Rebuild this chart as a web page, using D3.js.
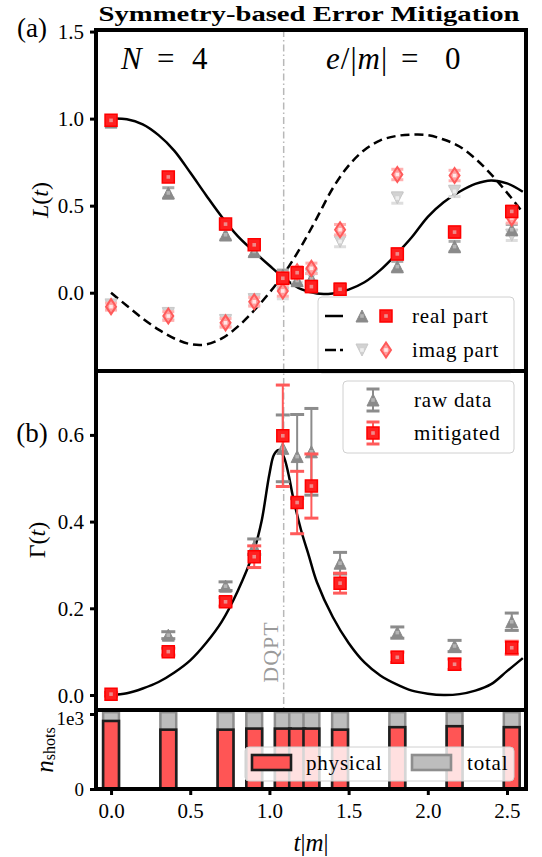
<!DOCTYPE html>
<html>
<head>
<meta charset="utf-8">
<script src="https://cdn.jsdelivr.net/npm/d3@7"></script>
<style>
  body { margin: 0; background: #fff; }
  svg { display: block; }
  text { font-family: "Liberation Serif", "Times New Roman", serif; fill: #000; }
</style>
</head>
<body>
<svg id="chart" width="542" height="857"></svg>
<script>
// ---- measurement times (t|m|) ----
const times = [0, 0.3615, 0.723, 0.904, 1.0845, 1.175, 1.265, 1.446, 1.8075, 2.169, 2.53];

// ---- Loschmidt amplitude L(t): raw and symmetry-mitigated ----
const realRaw = [0.98, 0.573, 0.333, 0.237, 0.10, 0.07, 0.08, 0.02, 0.15, 0.265, 0.362];
const realMit = [0.99, 0.665, 0.394, 0.275, 0.083, 0.115, 0.035, 0.02, 0.223, 0.348, 0.467];
const imagRaw = [-0.07, -0.12, -0.16, -0.04, -0.005, 0.09, 0.10, 0.294, 0.544, 0.582, 0.33];
const imagMit = [-0.08, -0.134, -0.173, -0.052, 0.01, 0.12, 0.14, 0.362, 0.679, 0.673, 0.43];
const lErrRaw = [0.02, 0.03, 0.03, 0.03, 0.03, 0.03, 0.03, 0.03, 0.03, 0.03, 0.03];
const lErrMit = [0.02, 0.025, 0.025, 0.025, 0.03, 0.03, 0.03, 0.03, 0.03, 0.03, 0.03];

// exact curves, sampled
const curveT = [0, 0.1, 0.2, 0.3, 0.4, 0.5, 0.6, 0.7, 0.8, 0.9, 1.0, 1.1, 1.2, 1.3, 1.4, 1.5, 1.6, 1.7, 1.8, 1.9, 2.0, 2.1, 2.2, 2.3, 2.4, 2.5, 2.6];
const realExact = [1.0, 0.996, 0.967, 0.905, 0.815, 0.69, 0.56, 0.435, 0.325, 0.238, 0.156, 0.079, 0.02, -0.005, -0.004, 0.018, 0.06, 0.13, 0.22, 0.32, 0.436, 0.52, 0.58, 0.625, 0.645, 0.628, 0.58];
const imagExact = [0, -0.075, -0.148, -0.212, -0.263, -0.295, -0.297, -0.262, -0.195, -0.105, 0.0, 0.12, 0.265, 0.43, 0.6, 0.73, 0.82, 0.875, 0.9, 0.908, 0.905, 0.88, 0.84, 0.77, 0.68, 0.575, 0.46];

// ---- rate function Γ(t) ----
const gammaT = [0, 0.1, 0.2, 0.3, 0.4, 0.5, 0.6, 0.7, 0.8, 0.9, 0.95, 1.0, 1.03, 1.06, 1.09, 1.12, 1.15, 1.2, 1.25, 1.3, 1.4, 1.5, 1.6, 1.7, 1.8, 1.9, 2.0, 2.1, 2.2, 2.3, 2.4, 2.5, 2.6];
const gammaExact = [0, 0.004, 0.015, 0.03, 0.052, 0.08, 0.12, 0.17, 0.24, 0.33, 0.4, 0.51, 0.555, 0.565, 0.55, 0.51, 0.455, 0.38, 0.32, 0.26, 0.18, 0.12, 0.075, 0.045, 0.025, 0.01, 0.003, 0.0, 0.002, 0.01, 0.025, 0.055, 0.085];
const gammaRaw = [0.002, 0.138, 0.251, 0.342, 0.569, 0.55, 0.561, 0.304, 0.144, 0.113, 0.169];
const gammaRawErr = [0.004, 0.008, 0.01, 0.018, 0.077, 0.097, 0.1, 0.025, 0.013, 0.013, 0.02];
const gammaMit = [0.002, 0.1, 0.215, 0.319, 0.598, 0.444, 0.482, 0.258, 0.087, 0.071, 0.109];
const gammaMitErr = [0.004, 0.008, 0.01, 0.025, 0.117, 0.072, 0.074, 0.023, 0.012, 0.012, 0.015];

// ---- shot counts ----
const shotsPhysical = [907, 791, 791, 805, 805, 805, 805, 791, 824, 837, 824];
const shotsTotal = [1024, 1024, 1024, 1024, 1024, 1024, 1024, 1024, 1024, 1024, 1024];
const barWidth = 0.1;

const tDQPT = 1.09;
const xTicks = [0, 0.5, 1.0, 1.5, 2.0, 2.5];
const aTicks = [0, 0.5, 1.0, 1.5];
const bTicks = [0, 0.2, 0.4, 0.6];
const cTicks = [0, 1000];

// ---- layout ----
const svg = d3.select("#chart");
const X0 = 96, X1 = 526;
const A = { top: 30, bottom: 371 }, B = { top: 371, bottom: 710 }, C = { top: 710, bottom: 789 };

const x = d3.scaleLinear().domain([-0.095, 2.62]).range([X0, X1]);
const yA = d3.scaleLinear().domain([-0.4497, 1.509]).range([A.bottom, A.top]);
const yB = d3.scaleLinear().domain([-0.0346, 0.7474]).range([B.bottom, B.top]);
const yC = d3.scaleLinear().domain([0, 1053]).range([C.bottom, C.top]);

const defs = svg.append("defs");
function clip(id, p) {
  defs.append("clipPath").attr("id", id).append("rect")
    .attr("x", X0).attr("y", p.top).attr("width", X1 - X0).attr("height", p.bottom - p.top);
  return "url(#" + id + ")";
}
const clipA = clip("clipA", A), clipB = clip("clipB", B), clipC = clip("clipC", C);

// marker shapes (centred at origin)
function triUp(s) { const h = s / 2; return `M0,${-h}L${h},${h}L${-h},${h}Z`; }
function triDown(s) { const h = s / 2; return `M0,${h}L${h},${-h}L${-h},${-h}Z`; }
function square(s) { const h = s / 2; return `M${-h},${-h}H${h}V${h}H${-h}Z`; }
function diamond(w, hgt) { return `M0,${-hgt / 2}L${w / 2},0L0,${hgt / 2}L${-w / 2},0Z`; }

const style = {
  realRaw: { path: triUp(12), fill: "#8a8a8a", stroke: "#8a8a8a", sw: 1, dot: "#b4b4b4", err: "#a8a8a8" },
  realMit: { path: square(12), fill: "#ff2020", stroke: "#ff0000", sw: 1.5, dot: "#f08a8a", err: "#ff7070" },
  imagRaw: { path: triDown(12), fill: "#d2d2d2", stroke: "#c8c8c8", sw: 1, dot: "#eeeeee", err: "#dedede" },
  imagMit: { path: diamond(10, 15), fill: "#ff9c9c", stroke: "#ff5a5a", sw: 2, dot: "#ffe8e8", err: "#ffb0b0" }
};

function drawMarker(g, cx, cy, st) {
  const m = g.append("g").attr("transform", `translate(${cx},${cy})`);
  m.append("path").attr("d", st.path).attr("fill", st.fill).attr("stroke", st.stroke).attr("stroke-width", st.sw);
  m.append("rect").attr("x", -1.8).attr("y", -1.8).attr("width", 3.6).attr("height", 3.6).attr("fill", st.dot);
}
function drawErr(g, cx, y0, y1, color, lw, capW, capLw) {
  g.append("line").attr("x1", cx).attr("x2", cx).attr("y1", y0).attr("y2", y1)
    .attr("stroke", color).attr("stroke-width", lw);
  [y0, y1].forEach(yy => g.append("line").attr("x1", cx - capW / 2).attr("x2", cx + capW / 2)
    .attr("y1", yy).attr("y2", yy).attr("stroke", color).attr("stroke-width", capLw));
}

function series(g, ys, errs, yScale, st, capW, capLw, lw) {
  times.forEach((t, i) => {
    drawErr(g, x(t), yScale(ys[i] - errs[i]), yScale(ys[i] + errs[i]), st.err, lw, capW, capLw);
  });
  times.forEach((t, i) => drawMarker(g, x(t), yScale(ys[i]), st));
}

// DQPT guide line through all panels
svg.append("line").attr("x1", x(tDQPT)).attr("x2", x(tDQPT)).attr("y1", A.top).attr("y2", C.bottom)
  .attr("stroke", "#b8b8b8").attr("stroke-width", 1.5).attr("stroke-dasharray", "7,3,1.5,3");

// ================= panel (a) =================
const gA = svg.append("g").attr("clip-path", clipA);
const lineA = d3.line().x((d, i) => x(curveT[i])).curve(d3.curveCatmullRom.alpha(0.5));
gA.append("path").attr("d", lineA.y(d => yA(d))(realExact)).attr("fill", "none")
  .attr("stroke", "#000").attr("stroke-width", 2.5);
gA.append("path").attr("d", lineA.y(d => yA(d))(imagExact)).attr("fill", "none")
  .attr("stroke", "#000").attr("stroke-width", 2.5).attr("stroke-dasharray", "9,5");

series(gA, imagRaw, lErrRaw, yA, style.imagRaw, 12, 3, 1.5);
series(gA, realRaw, lErrRaw, yA, style.realRaw, 12, 3, 1.5);
series(gA, imagMit, lErrMit, yA, style.imagMit, 12, 3, 1.5);
series(gA, realMit, lErrMit, yA, style.realMit, 12, 3, 1.5);

// legend (a)
const legA = svg.append("g");
legA.append("rect").attr("x", 318).attr("y", 297).attr("width", 196).attr("height", 76).attr("rx", 4)
  .attr("fill", "#fff").attr("fill-opacity", 0.85).attr("stroke", "#d0d0d0").attr("stroke-width", 1);
[[316, "real part", "0", style.realRaw, style.realMit], [350, "imag part", "9,5", style.imagRaw, style.imagMit]]
  .forEach(([ry, label, dash, s1, s2]) => {
    legA.append("line").attr("x1", 325).attr("x2", 343).attr("y1", ry).attr("y2", ry)
      .attr("stroke", "#000").attr("stroke-width", 2.5).attr("stroke-dasharray", dash === "0" ? null : "11,4");
    drawMarker(legA, 362, ry, s1);
    drawMarker(legA, 386, ry, s2);
    legA.append("text").attr("x", 412).attr("y", ry).attr("dominant-baseline", "central")
      .attr("font-size", 21).attr("letter-spacing", 0.8).text(label);
  });

// ================= panel (b) =================
const gB = svg.append("g").attr("clip-path", clipB);
gB.append("path").attr("d", d3.line().x((d, i) => x(gammaT[i])).y(d => yB(d))
  .curve(d3.curveCatmullRom.alpha(0.5))(gammaExact))
  .attr("fill", "none").attr("stroke", "#000").attr("stroke-width", 2.5);

const stRawB = Object.assign({}, style.realRaw, { err: "#8c8c8c" });
const stMitB = Object.assign({}, style.realMit, { err: "#ff5a5a" });
series(gB, gammaRaw, gammaRawErr, yB, stRawB, 14, 3, 2);
series(gB, gammaMit, gammaMitErr, yB, stMitB, 14, 3, 2);

svg.append("text").attr("transform", `translate(270,652) rotate(-90)`)
  .attr("text-anchor", "middle").attr("dominant-baseline", "central")
  .attr("font-size", 22).attr("letter-spacing", 1).style("fill", "#9a9a9a").text("DQPT");

// legend (b)
const legB = svg.append("g");
legB.append("rect").attr("x", 343).attr("y", 381).attr("width", 171).attr("height", 72).attr("rx", 4)
  .attr("fill", "#fff").attr("fill-opacity", 0.85).attr("stroke", "#d0d0d0").attr("stroke-width", 1);
[[400, "raw data", stRawB], [433, "mitigated", stMitB]].forEach(([ry, label, st]) => {
  drawErr(legB, 373, ry - 11, ry + 11, st.err, 2, 13, 3);
  drawMarker(legB, 373, ry, st);
  legB.append("text").attr("x", 414).attr("y", ry).attr("dominant-baseline", "central")
    .attr("font-size", 21).attr("letter-spacing", 0.8).text(label);
});

// ================= panel (c) =================
const gC = svg.append("g").attr("clip-path", clipC);
const bw = x(barWidth) - x(0);
gC.selectAll("rect.total").data(shotsTotal).join("rect").attr("class", "total")
  .attr("x", (d, i) => x(times[i]) - bw / 2).attr("width", bw)
  .attr("y", d => yC(d)).attr("height", d => yC(0) - yC(d))
  .attr("fill", "#bdbdbd").attr("stroke", "#8e8e8e").attr("stroke-width", 2.5);
gC.selectAll("rect.phys").data(shotsPhysical).join("rect").attr("class", "phys")
  .attr("x", (d, i) => x(times[i]) - bw / 2).attr("width", bw)
  .attr("y", d => yC(d)).attr("height", d => yC(0) - yC(d))
  .attr("fill", "#ff5555").attr("stroke", "#1e1e1e").attr("stroke-width", 2.6);

// legend (c)
const legC = svg.append("g");
legC.append("rect").attr("x", 245).attr("y", 747).attr("width", 269).attr("height", 34).attr("rx", 4)
  .attr("fill", "#fff").attr("fill-opacity", 0.82).attr("stroke", "#d0d0d0").attr("stroke-width", 1);
legC.append("rect").attr("x", 252).attr("y", 755).attr("width", 39).attr("height", 15)
  .attr("fill", "#ff5555").attr("stroke", "#1e1e1e").attr("stroke-width", 2.6);
legC.append("text").attr("x", 306).attr("y", 763).attr("dominant-baseline", "central")
  .attr("font-size", 21).attr("letter-spacing", 0.8).text("physical");
legC.append("rect").attr("x", 412).attr("y", 755).attr("width", 39).attr("height", 15)
  .attr("fill", "#bdbdbd").attr("stroke", "#8e8e8e").attr("stroke-width", 2.6);
legC.append("text").attr("x", 467).attr("y", 763).attr("dominant-baseline", "central")
  .attr("font-size", 21).attr("letter-spacing", 0.8).text("total");

// ================= axes & frames =================
function yAxis(scale, ticks, fmt, fontSize) {
  const g = svg.append("g").attr("transform", `translate(${X0},0)`)
    .call(d3.axisLeft(scale).tickValues(ticks).tickFormat(fmt).tickSize(6).tickPadding(6));
  g.select(".domain").remove();
  g.selectAll(".tick line").attr("stroke", "#000").attr("stroke-width", 3);
  g.selectAll(".tick text").attr("font-size", fontSize).attr("font-family", "Liberation Serif, serif")
    .attr("dy", null).attr("dominant-baseline", "central");
  return g;
}
yAxis(yA, aTicks, d3.format(".1f"), 21);
yAxis(yB, bTicks, d3.format(".1f"), 21);
const axC = yAxis(yC, cTicks, d => d === 0 ? "0" : "1e3", 19);
// keep the upper count label clear of the Γ-panel baseline label
axC.selectAll(".tick text").filter(d => d === 1000).attr("dy", 4);

const gx = svg.append("g").attr("transform", `translate(0,${C.bottom})`)
  .call(d3.axisBottom(x).tickValues(xTicks).tickFormat(d3.format(".1f")).tickSize(6).tickPadding(8));
gx.select(".domain").remove();
gx.selectAll(".tick line").attr("stroke", "#000").attr("stroke-width", 3);
gx.selectAll(".tick text").attr("font-size", 21).attr("font-family", "Liberation Serif, serif");

[A, B, C].forEach(p => svg.append("rect").attr("x", X0).attr("y", p.top)
  .attr("width", X1 - X0).attr("height", p.bottom - p.top)
  .attr("fill", "none").attr("stroke", "#000").attr("stroke-width", 4));

// ================= labels =================
svg.append("text").attr("x", 309).attr("y", 21).attr("text-anchor", "middle")
  .attr("font-family", "DejaVu Serif, serif").attr("font-weight", "bold").attr("font-size", 21)
  .attr("textLength", 421).attr("lengthAdjust", "spacingAndGlyphs")
  .text("Symmetry-based Error Mitigation");

svg.append("text").attr("x", 32).attr("y", 28).attr("text-anchor", "middle").attr("dominant-baseline", "central")
  .attr("font-size", 27).text("(a)");
svg.append("text").attr("x", 32).attr("y", 433).attr("text-anchor", "middle").attr("dominant-baseline", "central")
  .attr("font-size", 27).text("(b)");

const nText = svg.append("text").attr("x", 121).attr("y", 69).attr("font-size", 31);
nText.append("tspan").attr("font-style", "italic").text("N");
nText.append("tspan").attr("x", 157).text("=");
nText.append("tspan").attr("x", 192).text("4");

const eText = svg.append("text").attr("x", 326).attr("y", 69).attr("font-size", 31);
eText.append("tspan").attr("font-style", "italic").text("e");
eText.append("tspan").attr("dx", 1).text("/");
eText.append("tspan").attr("dx", 1).text("|");
eText.append("tspan").attr("dx", 1).attr("font-style", "italic").text("m");
eText.append("tspan").attr("dx", 1).text("|");
eText.append("tspan").attr("x", 401).text("=");
eText.append("tspan").attr("x", 445).text("0");

const lLab = svg.append("text").attr("transform", "translate(40,200) rotate(-90)")
  .attr("text-anchor", "middle").attr("dominant-baseline", "central").attr("font-size", 24);
lLab.append("tspan").attr("font-style", "italic").text("L");
lLab.append("tspan").text("(");
lLab.append("tspan").attr("font-style", "italic").text("t");
lLab.append("tspan").text(")");

const gLab = svg.append("text").attr("transform", "translate(37,540) rotate(-90)")
  .attr("text-anchor", "middle").attr("dominant-baseline", "central").attr("font-size", 24);
gLab.append("tspan").text("Γ(");
gLab.append("tspan").attr("font-style", "italic").text("t");
gLab.append("tspan").text(")");

const nLab = svg.append("text").attr("transform", "translate(44,750) rotate(-90)")
  .attr("text-anchor", "middle").attr("dominant-baseline", "central").attr("font-size", 25);
nLab.append("tspan").attr("font-style", "italic").text("n");
nLab.append("tspan").attr("font-size", 16).attr("dy", 5).text("shots");

const xLab = svg.append("text").attr("x", 311).attr("y", 842).attr("text-anchor", "middle")
  .attr("dominant-baseline", "central").attr("font-size", 25);
xLab.append("tspan").attr("font-style", "italic").text("t");
xLab.append("tspan").text("|");
xLab.append("tspan").attr("font-style", "italic").text("m");
xLab.append("tspan").text("|");
</script>
</body>
</html>
